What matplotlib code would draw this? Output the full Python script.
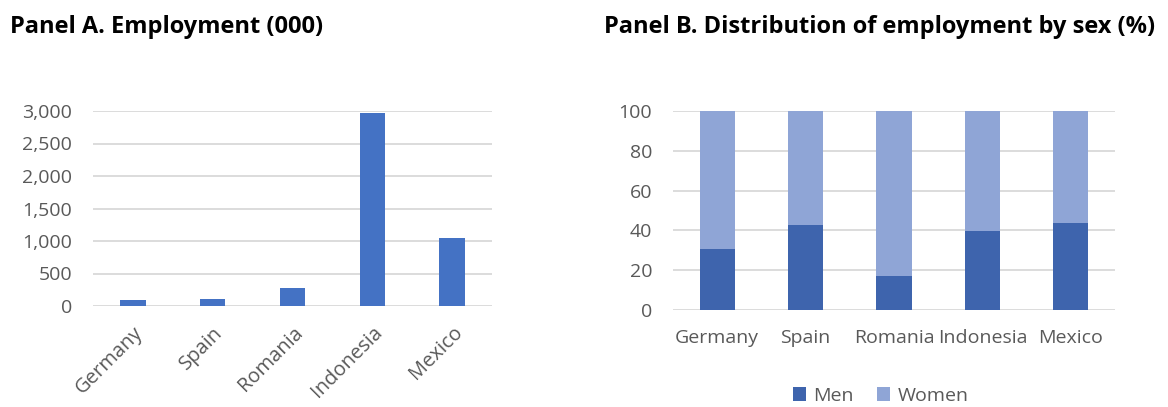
import matplotlib.pyplot as plt
from matplotlib.ticker import FuncFormatter

plt.rcParams['font.family'] = ['Open Sans', 'DejaVu Sans']

countries = ['Germany', 'Spain', 'Romania', 'Indonesia', 'Mexico']
employment = [92, 112, 272, 2975, 1041]
men_share = [30.6, 42.8, 17.2, 39.8, 43.6]
women_share = [100 - m for m in men_share]

W, H = 1168, 407
fig = plt.figure(figsize=(W / 100, H / 100), dpi=100)

grey = '#595959'
grid_c = '#D9D9D9'


def px_axes(x0, y0, x1, y1):
    return fig.add_axes([x0 / W, 1 - y1 / H, (x1 - x0) / W, (y1 - y0) / H])


def style(ax):
    for s in ax.spines.values():
        s.set_visible(False)
    ax.grid(True, axis='y', color=grid_c, linewidth=1.3, zorder=0)
    ax.tick_params(length=0, colors=grey, labelsize=14)
    ax.set_axisbelow(True)


# Panel A
axA = px_axes(93, 111, 492, 306)
axA.bar(countries, employment, width=0.32, color='#4472C4', zorder=2)
axA.set_ylim(0, 3000)
axA.set_yticks(range(0, 3001, 500))
axA.yaxis.set_major_formatter(FuncFormatter(lambda v, p: f'{int(v):,}'))
axA.set_xlim(-0.5, 4.5)
style(axA)
axA.tick_params(axis='y', pad=15)
axA.tick_params(axis='x', pad=12, labelsize=14.5)
plt.setp(axA.get_xticklabels(), rotation=45, ha='right', rotation_mode='anchor')

# Panel B
axB = px_axes(673, 111, 1115, 310)
axB.bar(countries, men_share, width=0.4, color='#3E64AD', label='Men', zorder=2)
axB.bar(countries, women_share, width=0.4, bottom=men_share, color='#8FA5D6',
        label='Women', zorder=2)
axB.set_ylim(0, 100)
axB.set_yticks(range(0, 101, 20))
axB.set_xlim(-0.5, 4.5)
style(axB)
axB.tick_params(axis='y', pad=15)
axB.tick_params(axis='x', pad=14)
axB.legend(loc='center', bbox_to_anchor=(0.47, -0.43), ncol=2, frameon=False,
           fontsize=14, labelcolor=grey, handlelength=0.65, handleheight=0.7,
           handletextpad=0.4, columnspacing=1.2)

fig.text(10 / W, 1 - 27 / H, 'Panel A. Employment (000)', fontsize=17,
         fontweight='bold', va='center', ha='left')
fig.text(604 / W, 1 - 27 / H, 'Panel B. Distribution of employment by sex (%)',
         fontsize=17, fontweight='bold', va='center', ha='left')

fig.savefig('out.png', dpi=100)
